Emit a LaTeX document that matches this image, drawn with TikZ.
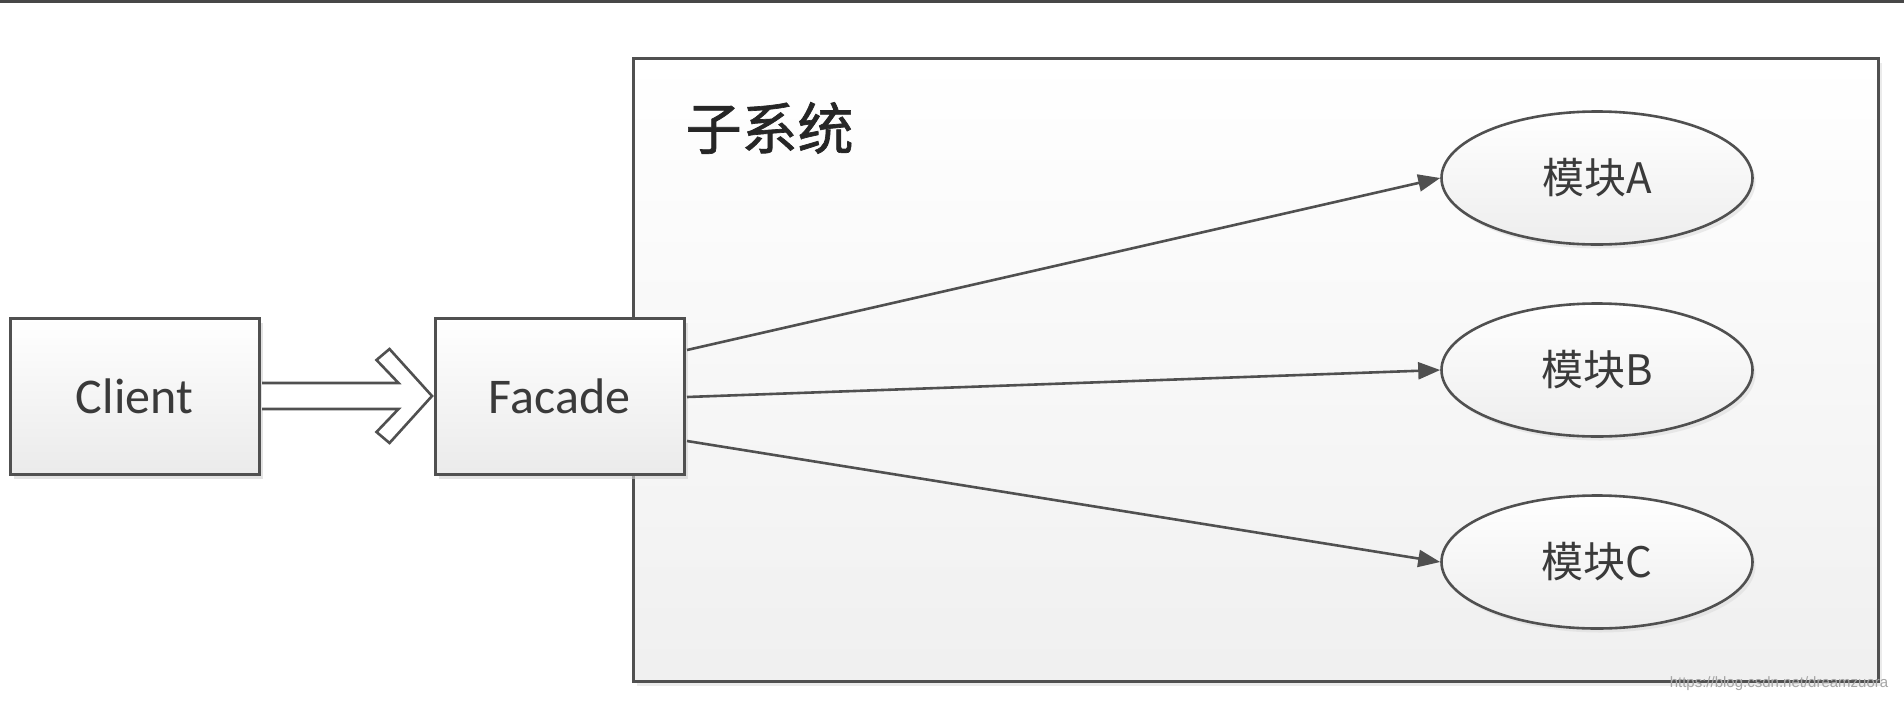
\documentclass[tikz,border=0pt]{standalone}
\usepackage{fontspec}
\setmainfont{Carlito}
\newfontfamily\cjk{Noto Sans CJK SC}
\newfontfamily\cjktitle[FakeBold=1.2]{Noto Sans CJK SC}
\newfontfamily\wmfont{Liberation Sans}
\usetikzlibrary{shapes.geometric,arrows.meta,calc,shadows}
\definecolor{edge}{HTML}{505050}
\definecolor{txt}{HTML}{3A3A3A}
\tikzset{
  boxnode/.style={draw=edge, line width=3pt, top color=white, bottom color=black!8,
    minimum width=249pt, minimum height=156pt, inner sep=0pt,
    font=\fontsize{50}{60}\selectfont, text=txt,
    drop shadow={shadow xshift=4pt, shadow yshift=-5pt, fill=black!18, opacity=0.6}},
  modnode/.style={ellipse, draw=edge, line width=2.6pt, top color=white, bottom color=black!7,
    minimum width=311pt, minimum height=133pt, inner sep=0pt,
    font=\cjk\fontsize{42}{50}\selectfont, text=txt,
    drop shadow={shadow xshift=3pt, shadow yshift=-4pt, fill=black!15, opacity=0.5}},
  conn/.style={draw=edge, line width=2.6pt, -{Triangle[length=22pt,width=17pt]}},
  hollow/.style={draw=edge, fill=white, line width=2.6pt, line join=miter},
}
\begin{document}
\begin{tikzpicture}[x=1pt,y=-1pt]
\useasboundingbox (0,0) rectangle (1904,702);
\fill[white] (0,0) rectangle (1904,702);
\fill[black!72] (0,0) rectangle (1904,3);
% subsystem frame
\node[draw=edge, line width=3pt, top color=white, bottom color=black!6,
      minimum width=1245pt, minimum height=623pt, inner sep=0pt,
      drop shadow={shadow xshift=4pt, shadow yshift=-5pt, fill=black!15, opacity=0.5}]
      (sub) at (1255.5,369.5) {};
\node[anchor=west, font=\cjktitle\fontsize{56}{60}\selectfont, text=black!85] (title) at (682,128) {子系统};
% client and facade
\node[boxnode] (cl) at (134.5,396) {Client};
\node[boxnode] (fac) at (559.5,396) {Facade};
% modules
\node[modnode] (ma) at (1597,178) {模块A};
\node[modnode] (mb) at (1597,370) {模块B};
\node[modnode] (mc) at (1597,562) {模块C};
% hollow arrow
\draw[hollow] ($(cl.east)+(1.5,-13)$) -- ($(fac.west)+(-35,-13)$) -- ($(fac.west)+(-57,-36)$)
  -- ($(fac.west)+(-44,-47)$) -- ($(fac.west)+(-1.5,0)$) -- ($(fac.west)+(-44,47)$)
  -- ($(fac.west)+(-57,36)$) -- ($(fac.west)+(-35,13)$) -- ($(cl.east)+(1.5,13)$);
% connectors
\draw[conn] ($(fac.east)+(1.5,-46)$) -- (ma.west);
\draw[conn] ($(fac.east)+(1.5,1)$) -- (mb.west);
\draw[conn] ($(fac.east)+(1.5,45)$) -- (mc.west);
% watermark
\node[font=\wmfont\fontsize{15}{18}\selectfont, text=black!35] (wm) at (1779,684) {https://blog.csdn.net/dreamzuora};
\end{tikzpicture}
\end{document}
